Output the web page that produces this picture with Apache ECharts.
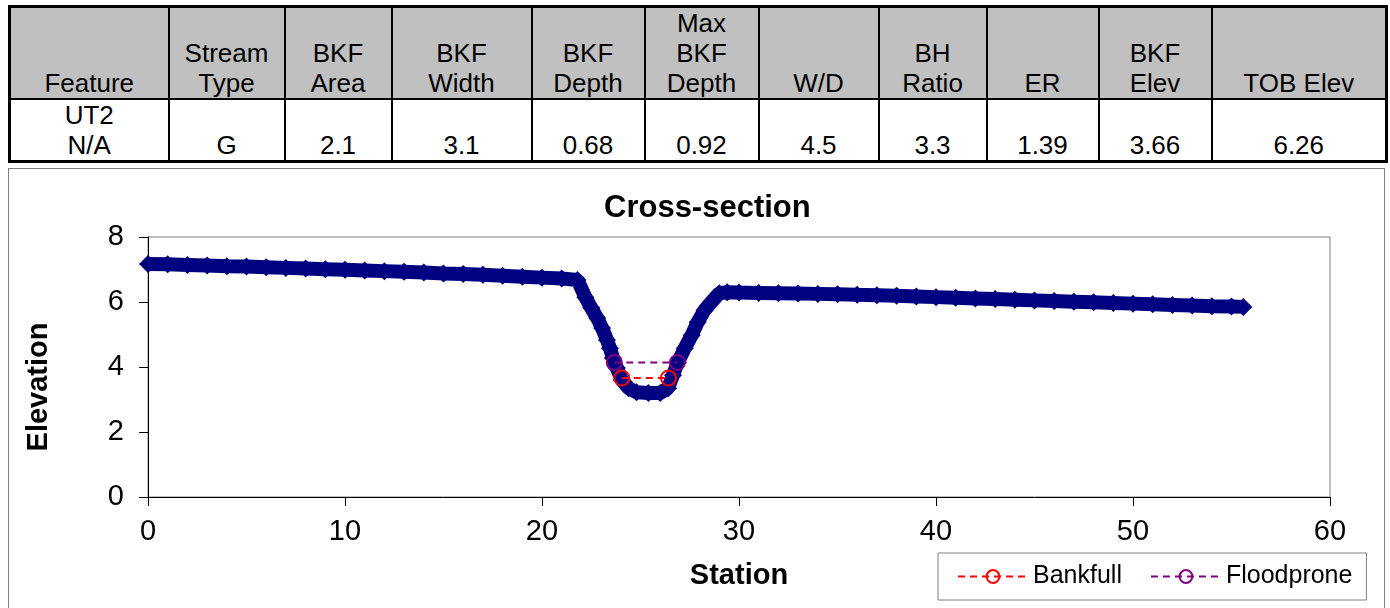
<!DOCTYPE html>
<html>
<head>
<meta charset="utf-8">
<title>Cross-section</title>
<script src="https://cdn.jsdelivr.net/npm/echarts@6/dist/echarts.min.js"></script>
<style>
  body { margin: 0; background: #fff; font-family: 'Liberation Sans', Arial, sans-serif; overflow: hidden; }
  #summary {
    position: absolute; left: 8px; top: 5px; width: 1377px;
    border-collapse: collapse; table-layout: fixed;
    border: 3px solid #000; font-size: 26px; color: #000;
  }
  #summary td { border-left: 2px solid #000; border-right: 2px solid #000; text-align: center; vertical-align: bottom; padding: 0; line-height: 30px; }
  #summary tr.head td { background: #c0c0c0; height: 90px; border-bottom: 2px solid #000; }
  #summary tr.vals td { background: #fff; height: 60px; }
  #chart { position: absolute; left: 8px; top: 168px; width: 1375px; height: 446px; border: 1px solid #808080; }
</style>
</head>
<body>
<table id="summary"></table>
<div id="chart"></div>
<script>
// table
var colWidths = [159, 116, 107, 140, 113, 114, 120, 108, 112, 113, 175]
var headers = [['Feature'], ['Stream', 'Type'], ['BKF', 'Area'], ['BKF', 'Width'], ['BKF', 'Depth'],
  ['Max', 'BKF', 'Depth'], ['W/D'], ['BH', 'Ratio'], ['ER'], ['BKF', 'Elev'], ['TOB Elev']]
var values = [['UT2', 'N/A'], ['G'], ['2.1'], ['3.1'], ['0.68'], ['0.92'], ['4.5'], ['3.3'], ['1.39'], ['3.66'], ['6.26']]

// surveyed cross-section (station, elevation)
var station = [0, 1, 2, 3, 4, 5, 6, 7, 8, 9, 10, 11, 12, 13, 14, 15, 16, 17, 18, 19, 20, 21, 21.8,
  22.2, 22.5, 22.8, 23.05, 23.3, 23.45, 23.6, 23.8, 24.05, 24.4, 24.8, 25.4, 26.0, 26.4, 26.65, 26.9,
  27.25, 27.6, 27.9, 28.25, 28.6, 29.0, 29.4, 30, 31, 32, 33, 34, 35, 36, 37, 38, 39, 40, 41, 42, 43,
  44, 45, 46, 47, 48, 49, 50, 51, 52, 53, 54, 55, 55.6]
var elevation = [7.17, 7.16, 7.14, 7.12, 7.10, 7.09, 7.07, 7.05, 7.03, 7.01, 6.99, 6.97, 6.95, 6.93,
  6.91, 6.88, 6.86, 6.84, 6.81, 6.78, 6.75, 6.72, 6.68,
  6.15, 5.82, 5.51, 5.20, 4.83, 4.58, 4.28, 3.97, 3.60, 3.35, 3.22, 3.20, 3.20, 3.35, 3.75, 4.15,
  4.58, 4.98, 5.38, 5.75, 6.00, 6.27, 6.30, 6.29, 6.28, 6.27, 6.26, 6.25, 6.24, 6.22, 6.21, 6.19, 6.17,
  6.15, 6.13, 6.11, 6.09, 6.07, 6.05, 6.03, 6.01, 5.99, 5.97, 5.95, 5.93, 5.91, 5.89, 5.87, 5.86, 5.85]
var bankfullStation = [24.05, 26.42]
var bankfullElev = [3.66, 3.66]
var floodproneStation = [23.67, 26.87]
var floodproneElev = [4.14, 4.14]

var table = document.getElementById('summary')
var html = '<colgroup>' + colWidths.map(function(w) { return '<col style="width:' + w + 'px">' }).join('') + '</colgroup>'
html += '<tr class="head">' + headers.map(function(h) { return '<td>' + h.join('<br>') + '</td>' }).join('') + '</tr>'
html += '<tr class="vals">' + values.map(function(v) { return '<td>' + v.join('<br>') + '</td>' }).join('') + '</tr>'
table.innerHTML = html

function pairs(xs, ys) {
  return xs.map(function(x, i) { return [x, ys[i]] })
}

var axisFont = { fontSize: 29, color: '#000' }
var nameFont = { fontSize: 29, fontWeight: 'bold', color: '#000' }

var chart = echarts.init(document.getElementById('chart'))
chart.setOption({
  animation: false,
  textStyle: { fontFamily: 'Liberation Sans, Arial, sans-serif' },
  title: {
    text: 'Cross-section',
    left: 590,
    top: 19,
    textStyle: { fontSize: 31, fontWeight: 'bold', color: '#000' }
  },
  grid: {
    left: 139,
    top: 68,
    width: 1182,
    height: 260,
    show: true,
    borderColor: '#808080',
    borderWidth: 1
  },
  legend: {
    data: ['Bankfull', 'Floodprone'],
    left: 929,
    top: 384,
    orient: 'horizontal',
    padding: [11, 14, 11, 19],
    borderColor: '#808080',
    borderWidth: 1,
    itemWidth: 70,
    itemHeight: 16,
    itemGap: 28,
    textStyle: { fontSize: 25, color: '#000' }
  },
  xAxis: {
    type: 'value',
    min: 0,
    max: 60,
    interval: 10,
    name: 'Station',
    nameLocation: 'middle',
    nameGap: 64,
    nameTextStyle: nameFont,
    axisLine: { lineStyle: { color: '#000', width: 1 } },
    axisTick: { length: 9, lineStyle: { color: '#000' } },
    axisLabel: Object.assign({ margin: 20 }, axisFont),
    splitLine: { show: false }
  },
  yAxis: {
    type: 'value',
    min: 0,
    max: 8,
    interval: 2,
    name: 'Elevation',
    nameLocation: 'middle',
    nameGap: 95,
    nameTextStyle: Object.assign({ padding: [0, 40, 0, 0] }, nameFont),
    axisLine: { show: true, lineStyle: { color: '#000', width: 1 } },
    axisTick: { show: true, length: 9, lineStyle: { color: '#000' } },
    axisLabel: Object.assign({ margin: 24 }, axisFont),
    splitLine: { show: false }
  },
  series: [
    {
      name: 'Cross-section',
      type: 'line',
      data: pairs(station, elevation),
      symbol: 'diamond',
      symbolSize: 18,
      itemStyle: { color: '#000080' },
      lineStyle: { color: '#000080', width: 14 },
      z: 2
    },
    {
      name: 'Bankfull',
      type: 'line',
      data: pairs(bankfullStation, bankfullElev),
      symbol: 'circle',
      symbolSize: 15,
      itemStyle: { color: 'rgba(0,0,0,0)', borderColor: '#ff0000', borderWidth: 2 },
      lineStyle: { color: '#ff0000', width: 2, type: [7, 5] },
      z: 3
    },
    {
      name: 'Floodprone',
      type: 'line',
      data: pairs(floodproneStation, floodproneElev),
      symbol: 'circle',
      symbolSize: 15,
      itemStyle: { color: 'rgba(0,0,0,0)', borderColor: '#800080', borderWidth: 2 },
      lineStyle: { color: '#800080', width: 2, type: [7, 5] },
      z: 3
    }
  ]
})
</script>
</body>
</html>
